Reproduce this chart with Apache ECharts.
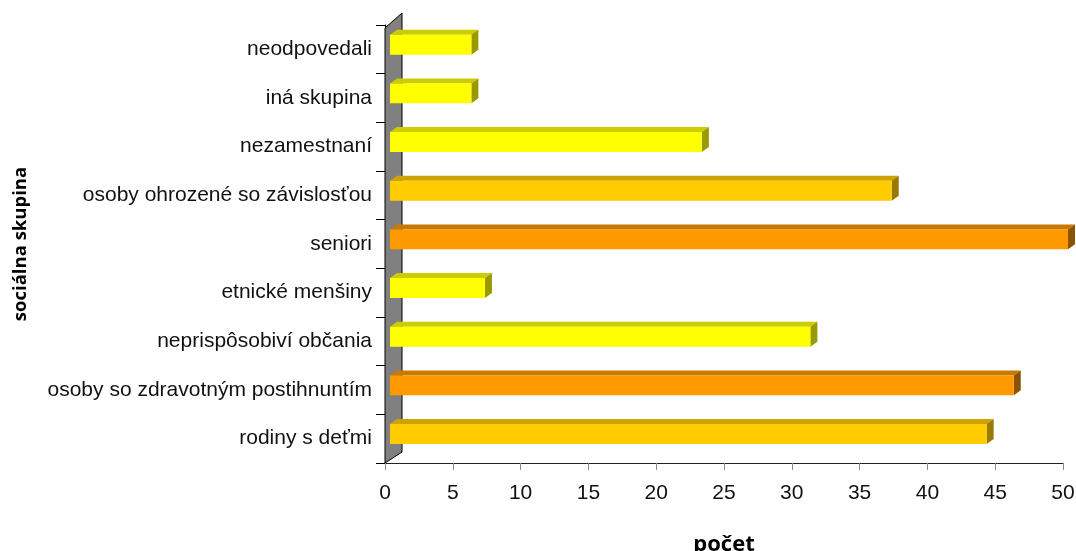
<!DOCTYPE html>
<html>
<head>
<meta charset="utf-8">
<title>sociálna skupina</title>
<script src="https://cdn.jsdelivr.net/npm/echarts@6/dist/echarts.min.js"></script>
<style>
  html, body { margin: 0; padding: 0; background: #fff; }
  #chart { width: 1076px; height: 551px; }
</style>
</head>
<body>
<div id="chart"></div>
<script>
// categories listed top to bottom, as in the picture
const categories = [
  'neodpovedali',
  'iná skupina',
  'nezamestnaní',
  'osoby ohrozené so závislosťou',
  'seniori',
  'etnické menšiny',
  'neprispôsobiví občania',
  'osoby so zdravotným postihnuntím',
  'rodiny s deťmi'
]
const counts = [6, 6, 23, 37, 50, 7, 31, 46, 44]
const xTicks = { min: 0, max: 50, step: 5 }

// one tone per bar: front / top / side
const tones = {
  yellow: ['#ffff00', '#cccc00', '#999900'],
  gold: ['#ffcc00', '#cca300', '#997a00'],
  orange: ['#ff9900', '#c97800', '#8a5300']
}
const barTone = ['yellow', 'yellow', 'yellow', 'gold', 'orange', 'yellow', 'yellow', 'orange', 'gold']

const chart = echarts.init(document.getElementById('chart'))

// grey back wall behind the bars
function renderWall(params, api) {
  const cs = params.coordSys
  const dx = 17
  return {
    type: 'polygon',
    z2: 0,
    shape: {
      points: [
        [cs.x, cs.y + cs.height],
        [cs.x, cs.y + 3],
        [cs.x + dx, cs.y - 12],
        [cs.x + dx, cs.y + cs.height - 11]
      ]
    },
    style: { fill: '#808080', stroke: '#000', lineWidth: 1 }
  }
}

function renderBar(params, api) {
  const i = api.value(0)
  const v = api.value(1)
  const start = api.coord([0, i])
  const end = api.coord([v, i])
  const band = api.size([0, 1])[1]
  const x0 = start[0] + 5
  const x1 = end[0] + 5
  const yt = start[1] - band * 0.3
  const h = band * 0.41
  const dx = 7, dy = -5
  const c = tones[barTone[i]]
  return {
    type: 'group',
    children: [
      {
        type: 'polygon',
        shape: { points: [[x0, yt], [x0 + dx, yt + dy], [x1 + dx, yt + dy], [x1, yt]] },
        style: { fill: c[1] }
      },
      {
        type: 'polygon',
        shape: { points: [[x1, yt], [x1 + dx, yt + dy], [x1 + dx, yt + h + dy], [x1, yt + h]] },
        style: { fill: c[2] }
      },
      {
        type: 'rect',
        shape: { x: x0, y: yt, width: x1 - x0, height: h },
        style: { fill: c[0] }
      }
    ]
  }
}

const option = {
  animation: false,
  grid: { left: 385, right: 13, top: 25, bottom: 88, containLabel: false, outerBoundsMode: 'none' },
  xAxis: {
    type: 'value',
    min: xTicks.min,
    max: xTicks.max,
    interval: xTicks.step,
    name: 'počet',
    nameLocation: 'middle',
    nameGap: 71,
    nameTextStyle: { fontFamily: 'Open Sans', fontWeight: 'bold', fontSize: 22, color: '#000' },
    axisLine: { show: true, lineStyle: { color: '#222', width: 1 } },
    axisTick: { show: true, length: 7, lineStyle: { color: '#888' } },
    axisLabel: { fontFamily: 'Liberation Sans', fontSize: 21, color: '#111', margin: 20 },
    splitLine: { show: false }
  },
  yAxis: {
    type: 'category',
    data: categories,
    inverse: true,
    name: 'sociálna skupina',
    nameLocation: 'middle',
    nameGap: 355,
    nameRotate: 90,
    nameTextStyle: { fontFamily: 'Open Sans', fontWeight: 'bold', fontSize: 18.5, color: '#000' },
    axisLine: { show: true, lineStyle: { color: '#000', width: 1 } },
    axisTick: { show: true, length: 9, lineStyle: { color: '#000' } },
    axisLabel: { fontFamily: 'Liberation Sans', fontSize: 21, color: '#111', margin: 13 },
    splitLine: { show: false }
  },
  series: [
    {
      type: 'custom',
      renderItem: renderWall,
      data: [[0, 0]],
      encode: { x: 0, y: 1 },
      silent: true,
      z: 1
    },
    {
      type: 'custom',
      renderItem: renderBar,
      data: counts.map((v, i) => [i, v]),
      encode: { x: 1, y: 0 },
      z: 2
    }
  ]
}

chart.setOption(option)
</script>
</body>
</html>
